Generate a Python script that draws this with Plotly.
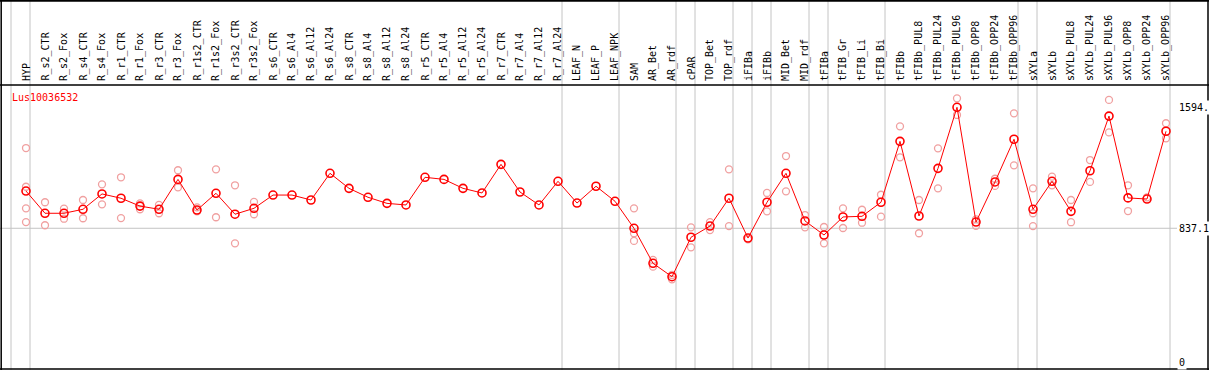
import plotly.graph_objects as go

W, H = 1209, 370

samples = ["HYP", "R_s2_CTR", "R_s2_Fox", "R_s4_CTR", "R_s4_Fox", "R_r1_CTR", "R_r1_Fox",
           "R_r3_CTR", "R_r3_Fox", "R_r1s2_CTR", "R_r1s2_Fox", "R_r3s2_CTR", "R_r3s2_Fox",
           "R_s6_CTR", "R_s6_Al4", "R_s6_Al12", "R_s6_Al24", "R_s8_CTR", "R_s8_Al4", "R_s8_Al12",
           "R_s8_Al24", "R_r5_CTR", "R_r5_Al4", "R_r5_Al12", "R_r5_Al24", "R_r7_CTR", "R_r7_Al4",
           "R_r7_Al12", "R_r7_Al24", "LEAF_N", "LEAF_P", "LEAF_NPK", "SAM", "AR_Bet", "AR_rdf",
           "cPAR", "TOP_Bet", "TOP_rdf", "iFIBa", "iFIBb", "MID_Bet", "MID_rdf", "tFIBa",
           "tFIB_Gr", "tFIB_Li", "tFIB_Bi", "tFIBb", "tFIBb_PUL8", "tFIBb_PUL24", "tFIBb_PUL96",
           "tFIBb_OPP8", "tFIBb_OPP24", "tFIBb_OPP96", "sXYLa", "sXYLb", "sXYLb_PUL8",
           "sXYLb_PUL24", "sXYLb_PUL96", "sXYLb_OPP8", "sXYLb_OPP24", "sXYLb_OPP96"]

means = [1070, 931, 931, 956, 1052, 1025, 976, 956, 1143, 951, 1056, 925, 962,
         1045, 1045, 1014, 1181, 1087, 1031, 993, 983, 1156, 1143, 1087, 1058, 1237, 1064,
         983, 1131, 995, 1100, 1006, 837, 618, 534, 781, 851, 1025, 776, 1000, 1181, 883,
         795, 908, 912, 1000, 1381, 914, 1212, 1594, 876, 1127, 1394, 956, 1131, 943, 1197,
         1539, 1027, 1020, 1444]

# replicate measurements: (sample index, value)
rep_idx = [0, 0, 0, 0, 1, 1, 2, 2, 3, 3, 4, 4, 5, 5, 6, 6, 7, 7, 8, 8, 9, 9, 10, 10,
           11, 11, 12, 12, 32, 32, 32, 33, 33, 34, 34, 35, 35, 36, 36, 37, 37, 38, 39, 39,
           40, 40, 41, 41, 42, 42, 43, 43, 44, 44, 45, 45, 46, 46, 47, 47, 48, 48, 49, 49,
           50, 50, 51, 51, 52, 52, 53, 53, 53, 54, 54, 55, 55, 56, 56, 57, 57, 58, 58, 59,
           60, 60]
rep_val = [1339, 1097, 962, 876, 1000, 856, 960, 897, 1014, 900, 1112, 987, 1156, 901,
           993, 956, 983, 931, 1200, 1093, 968, 943, 1206, 906, 1106, 743, 1002, 925,
           962, 806, 758, 639, 597, 545, 518, 843, 718, 876, 826, 1206, 851, 768, 1058, 943,
           1289, 1068, 920, 843, 845, 743, 962, 839, 953, 872, 1047, 910, 1475, 1281,
           1014, 806, 1337, 1087, 1650, 1546, 893, 853, 1147, 1102, 1556, 1231, 1087, 931,
           851, 1160, 1106, 1014, 875, 1264, 1127, 1640, 1437, 1106, 945, 1031, 1494, 1400]

gene = "Lus10036532"
ytick_vals = [1594, 837.1, 0]
ytick_text = ["1594.", "837.1", "0"]
separator_after = [-1, 0, 28, 31, 34, 35, 37, 38, 39, 41, 42, 45, 52, 53, 60]

# geometry (pixels)
col0_px, col_step = 26, 19
y0_px, px_per_unit = 362.1, 0.15986
xr0 = -col0_px / col_step
xr1 = xr0 + W / col_step
yr0 = (y0_px - H) / px_per_unit
yr1 = y0_px / px_per_unit

FONT = "DejaVu Sans Mono"
xs = list(range(len(samples)))

fig = go.Figure()
fig.add_trace(go.Scatter(
    x=rep_idx, y=rep_val, mode="markers",
    marker=dict(symbol="circle-open", size=7, color="#f0a0a0", line=dict(width=1.3, color="#f0a0a0")),
    showlegend=False, hoverinfo="skip"))
fig.add_trace(go.Scatter(
    x=xs, y=means, mode="lines+markers",
    line=dict(color="#ff0000", width=1),
    marker=dict(symbol="circle-open", size=8, color="#ff0000", line=dict(width=1.6, color="#ff0000")),
    showlegend=False))

shapes = []
gray = "#c4c4c4"
for k in separator_after:
    xv = k + 4 / col_step
    shapes.append(dict(type="line", xref="x", yref="paper", x0=xv, x1=xv, y0=0, y1=1,
                       line=dict(color=gray, width=1), layer="below"))
shapes.append(dict(type="line", xref="paper", yref="y", x0=0, x1=1177 / W,
                   y0=ytick_vals[1], y1=ytick_vals[1], line=dict(color=gray, width=1), layer="below"))
# frame
def pline(x0, y0, x1, y1, w=1.5):
    shapes.append(dict(type="line", xref="paper", yref="paper",
                       x0=x0 / W, x1=x1 / W, y0=1 - y0 / H, y1=1 - y1 / H,
                       line=dict(color="black", width=w)))
pline(0, 0.8, W, 0.8, 2)
pline(0, 85, W, 85, 1.5)
pline(0, 369, W, 369, 1.5)
pline(1.2, 0, 1.2, H, 1.5)
pline(1208, 0, 1208, H, 1.5)

annotations = []
for k, s in enumerate(samples):
    annotations.append(dict(x=k, xref="x", y=1 - 83 / H, yref="paper", text=s, textangle=-90,
                            showarrow=False, xanchor="center", yanchor="bottom",
                            font=dict(family=FONT, size=10, color="black")))
annotations.append(dict(x=10 / W, xref="paper", y=1 - 97.5 / H, yref="paper", text=gene,
                        showarrow=False, xanchor="left", yanchor="middle",
                        font=dict(family=FONT, size=10, color="#ff0000")))
for v, t in zip(ytick_vals, ytick_text):
    annotations.append(dict(x=1177 / W, xref="paper", y=v, yref="y", text=t,
                            showarrow=False, xanchor="left", yanchor="middle",
                            font=dict(family=FONT, size=10, color="black"),
                            bgcolor="white"))

fig.update_layout(
    width=W, height=H, margin=dict(l=0, r=0, t=0, b=0),
    paper_bgcolor="white", plot_bgcolor="white",
    xaxis=dict(range=[xr0, xr1], visible=False, showgrid=False, zeroline=False),
    yaxis=dict(range=[yr0, yr1], visible=False, showgrid=False, zeroline=False),
    shapes=shapes, annotations=annotations, showlegend=False)

fig.write_html("out.html", config={"displayModeBar": False},
               post_script="document.body.style.margin='0';document.body.style.overflow='hidden';")
